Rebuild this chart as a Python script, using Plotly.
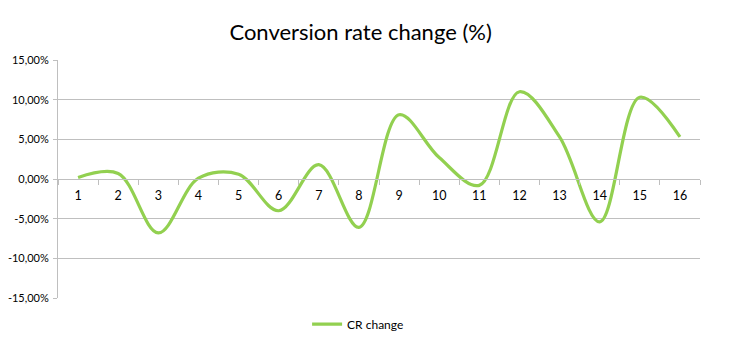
import plotly.graph_objects as go

categories = [str(i) for i in range(1, 17)]
cr_change = [0.2, 0.7, -6.8, 0.1, 0.6, -4.0, 1.8, -6.1, 8.1, 2.7, -0.8, 11.0, 5.3, -5.4, 10.3, 5.3]
y_ticks = [-15, -10, -5, 0, 5, 10, 15]
y_tick_labels = ["-15,00%", "-10,00%", "-5,00%", "0,00%", "5,00%", "10,00%", "15,00%"]

font_family = "Lato, 'Open Sans', sans-serif"
grid_color = "#BFBFBF"

fig = go.Figure()
fig.add_trace(go.Scatter(
    x=categories, y=cr_change, mode="lines", name="CR change",
    line=dict(color="#92D050", width=3.2, shape="spline", smoothing=1.0),
))

# page body has an 8px margin; compensate so the plot lands where the reference has it
fig.update_layout(
    width=727, height=348,
    margin=dict(l=50, r=35, t=52, b=58, autoexpand=False),
    paper_bgcolor="white", plot_bgcolor="white",
    title=dict(text="Conversion rate change (%)", x=0.485, xanchor="center", y=0.93, yanchor="middle",
               font=dict(family=font_family, size=22, color="#000000")),
    font=dict(family=font_family, size=12, color="#000000"),
    showlegend=True,
    legend=dict(orientation="h", x=0.388, xanchor="left", y=-0.11, yanchor="middle",
                font=dict(size=12, color="#000000"), bgcolor="rgba(0,0,0,0)"),
    xaxis=dict(type="category", range=[-0.5, 15.5], anchor="free", position=0.5, showline=True,
               linecolor=grid_color, linewidth=1, ticks="outside", tickson="boundaries", ticklen=5,
               tickcolor=grid_color, showgrid=False, zeroline=False, ticklabelstandoff=5,
               automargin=False, tickfont=dict(size=12.5)),
    yaxis=dict(range=[-15, 15], tickvals=y_ticks, ticktext=y_tick_labels, showgrid=True,
               gridcolor=grid_color, gridwidth=1, zeroline=False, showline=True, linecolor=grid_color,
               ticks="outside", ticklen=4, tickcolor=grid_color, ticklabelstandoff=2,
               automargin=False, tickfont=dict(size=11)),
)

fig.write_html("out.html")
